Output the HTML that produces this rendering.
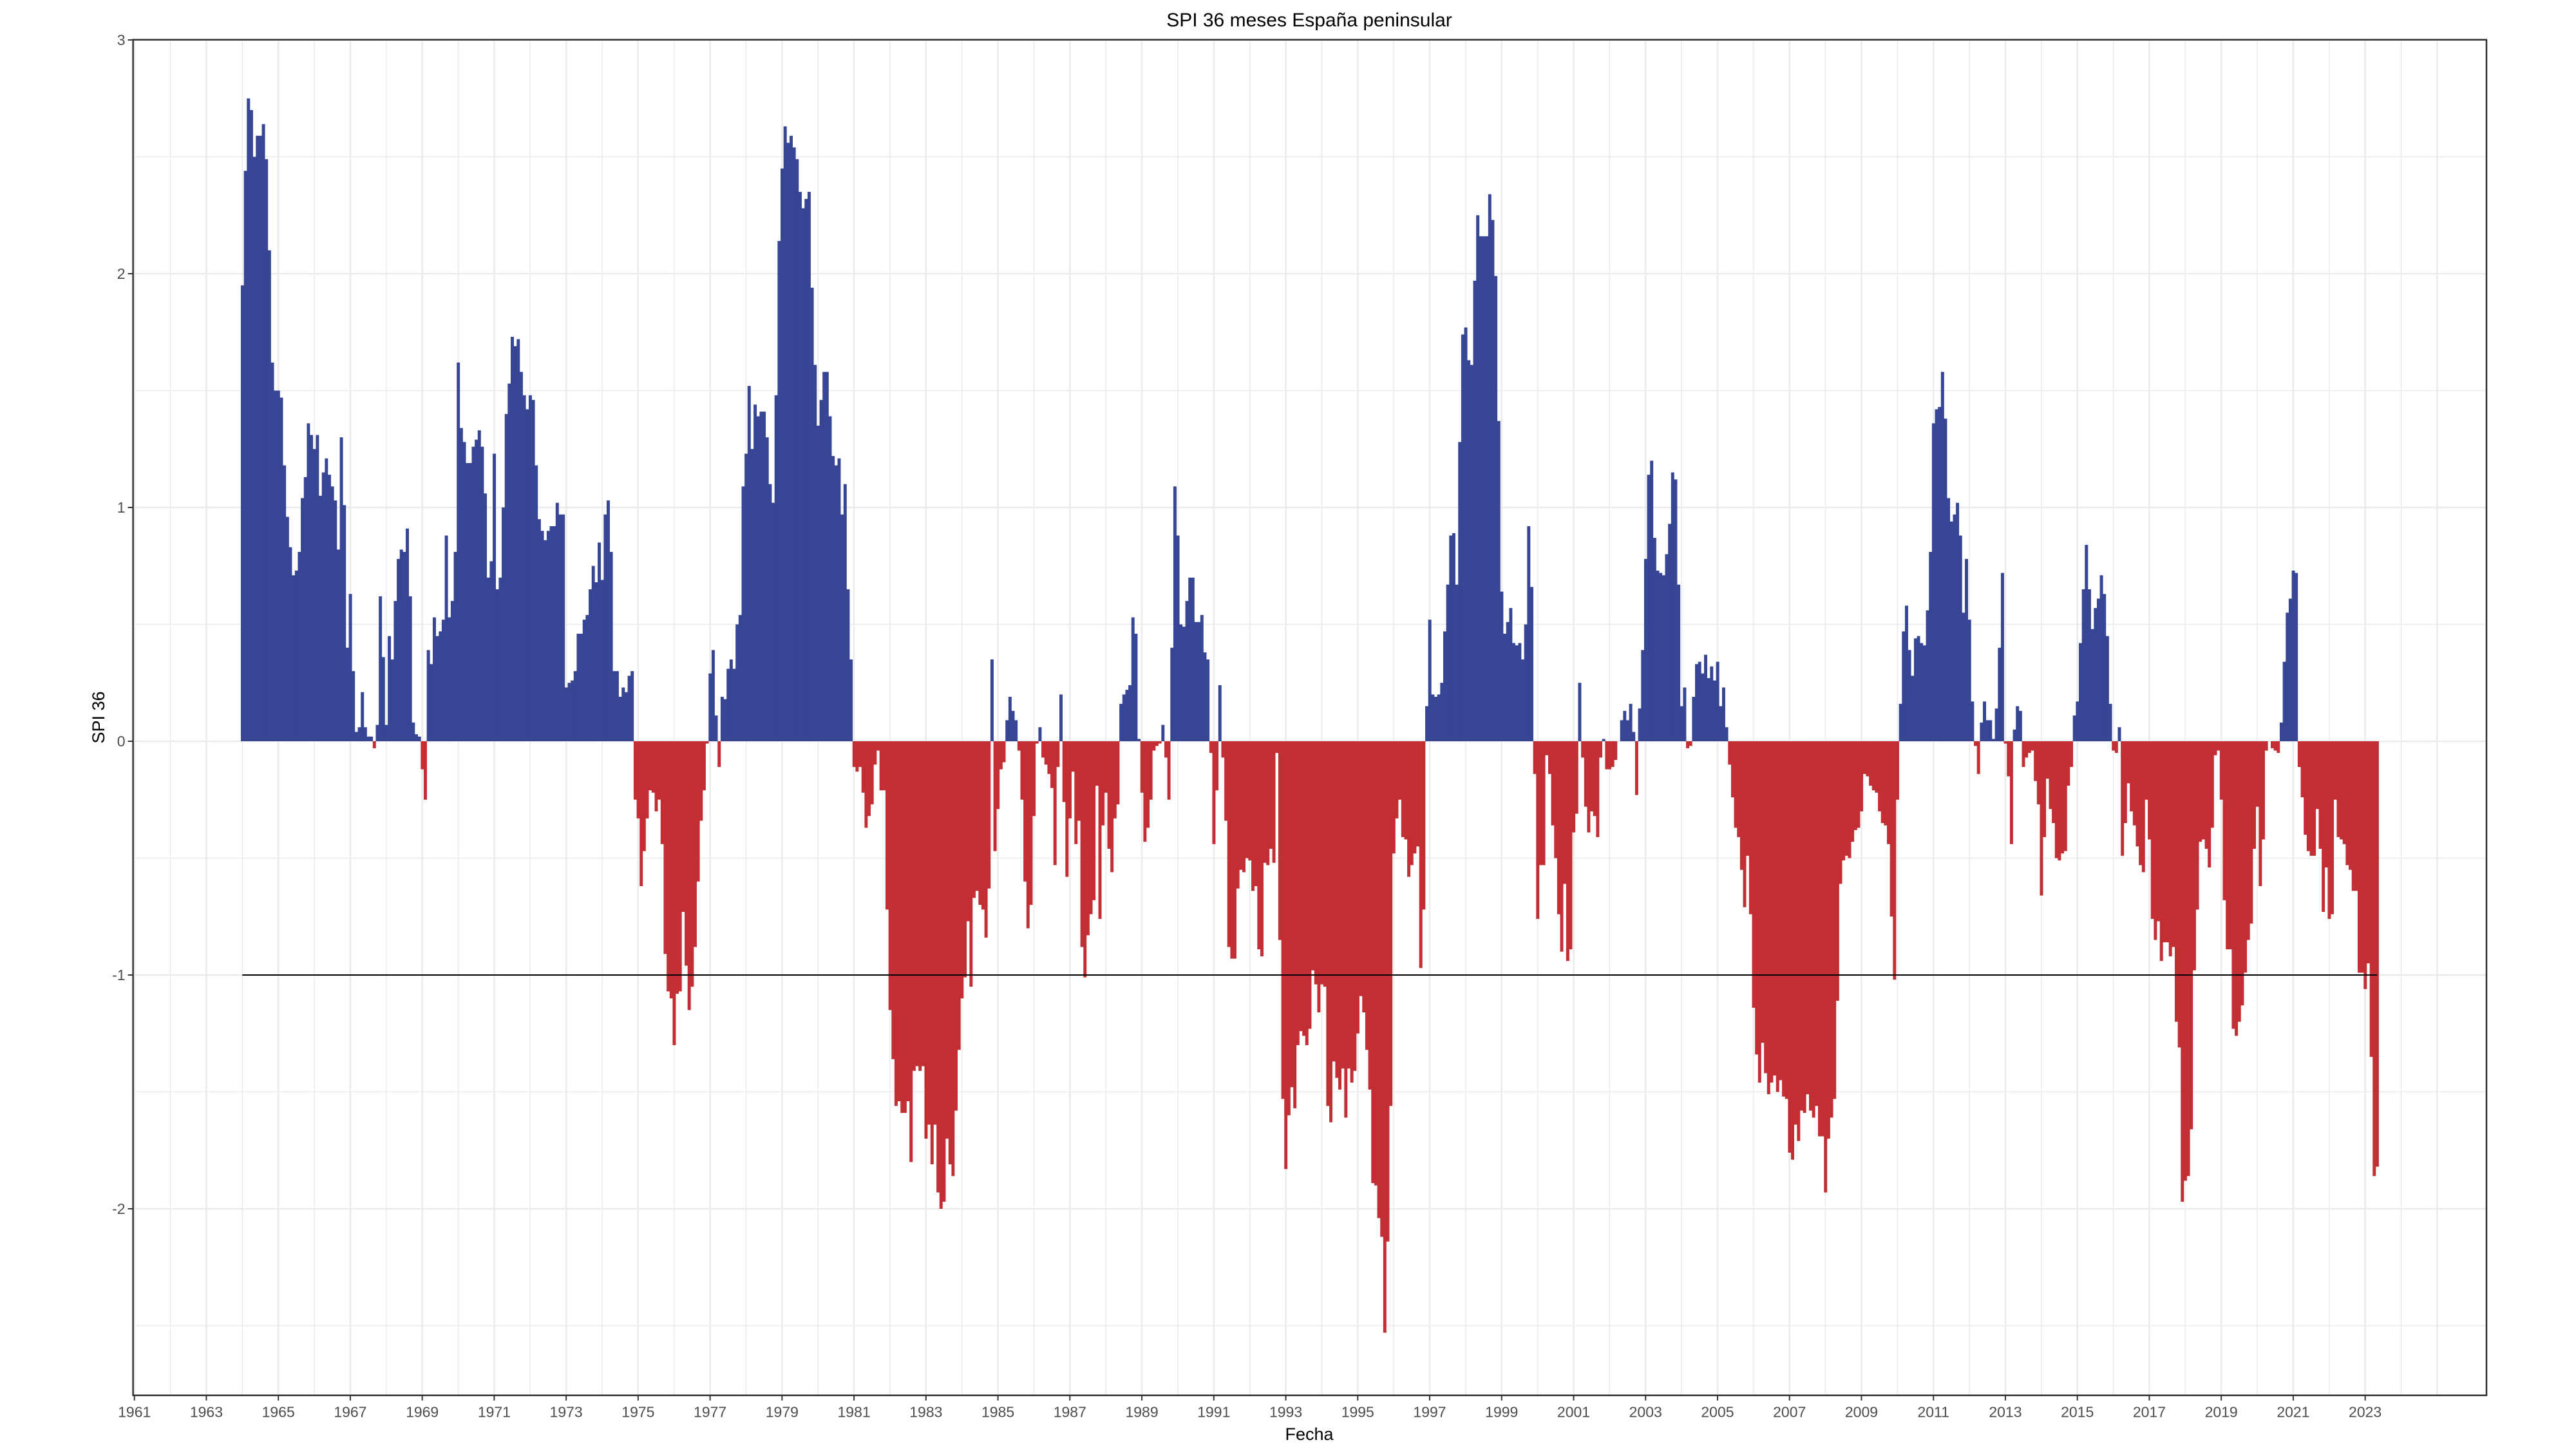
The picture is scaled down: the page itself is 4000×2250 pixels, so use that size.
<!DOCTYPE html>
<html><head><meta charset="utf-8"><title>SPI 36 meses España peninsular</title>
<style>
html,body{margin:0;padding:0;background:#fff;}
svg{display:block;}
text{font-family:"Liberation Sans",Arial,sans-serif;}
</style></head>
<body>
<svg id="chart" xmlns="http://www.w3.org/2000/svg" width="4000" height="2250" viewBox="0 0 4000 2250">
<rect x="0" y="0" width="4000" height="2250" fill="#ffffff"/>
<g id="grid"></g>
<g id="bars"></g>
<g id="ref"></g>
<rect x="206.6" y="61.7" width="3654.4" height="2105" fill="none" stroke="#333333" stroke-width="2.5"/>
<g id="axes"></g>
<text x="2033" y="41" font-size="30" text-anchor="middle" fill="#000">SPI 36 meses España peninsular</text>
<text x="2033" y="2236" font-size="27" text-anchor="middle" fill="#000">Fecha</text>
<text x="0" y="0" font-size="27" text-anchor="middle" fill="#000" transform="translate(162,1114) rotate(-90)">SPI 36</text>
</svg>
<script>
// Data: monthly SPI-36, starting January 1964
const startYear = 1964;
const spiA = [1.95,2.44,2.75,2.70,2.50,2.59,2.59,2.64,2.49,2.10,1.62,1.50,1.50,1.47,1.18,0.96,0.83,0.71,0.73,0.81,1.04,1.13,1.36,1.31,1.25,1.31,1.05,1.15,1.21,1.14,1.09,1.03,0.82,1.30,1.01,0.40,0.63,0.30,0.04,0.06,0.21,0.06,0.02,0.02,-0.03,0.07,0.62,0.36,0.07,0.45,0.35,0.60,0.78,0.82,0.81,0.91,0.62,0.08,0.03,0.02,-0.12,-0.25,0.39,0.33,0.53,0.45,0.47,0.52,0.88,0.53,0.60,0.81,1.62,1.34,1.28,1.19,1.19,1.26,1.29,1.33,1.26,1.06,0.70,0.77,1.23,0.65,0.70,1.00,1.40,1.53,1.73,1.69,1.72,1.58,1.48,1.42,1.48,1.46,1.18,0.95,0.90,0.86,0.90,0.92,0.92,1.02,0.97,0.97,0.23,0.25,0.26,0.30,0.46,0.46,0.52,0.54,0.65,0.75,0.68,0.85,0.69,0.97,1.03,0.81,0.30,0.30,0.19,0.23,0.21,0.28,0.30];
const spiB = [-0.25,-0.33,-0.62,-0.47,-0.33,-0.21,-0.22,-0.30,-0.25,-0.44,-0.91,-1.07,-1.10,-1.30,-1.08,-1.07,-0.73,-0.96,-1.15,-1.05,-0.88,-0.60,-0.34,-0.21,-0.01,0.29,0.39,0.11,-0.11,0.19,0.18,0.31,0.35,0.31,0.50,0.54,1.09,1.23,1.52,1.25,1.44,1.39,1.41,1.41,1.30,1.10,1.02,1.48,2.14,2.45,2.63,2.56,2.59,2.54,2.49,2.35,2.28,2.32,2.35,1.94,1.61,1.35,1.46,1.58,1.58,1.39,1.22,1.18,1.21,0.97,1.10,0.65,0.35,-0.11,-0.13,-0.11,-0.22,-0.37,-0.32,-0.27,-0.10,-0.04,-0.21,-0.21,-0.72,-1.15,-1.36,-1.56,-1.54,-1.59,-1.59,-1.54,-1.8,-1.41,-1.39];
const spiC = [-1.41,-1.39,-1.70,-1.64,-1.81,-1.64,-1.93,-2.00,-1.97,-1.70,-1.81,-1.86,-1.58,-1.32,-1.10,-1.01,-0.77,-1.05,-0.67,-0.64,-0.70,-0.72,-0.84,-0.63,0.35,-0.47,-0.29,-0.12,-0.09,0.09,0.19,0.13,0.09,-0.04,-0.25,-0.60,-0.80,-0.70,-0.32,-0.01,0.06,-0.07,-0.10,-0.14,-0.20,-0.53,-0.11,0.20,-0.26,-0.58,-0.33,-0.13,-0.44,-0.34,-0.88,-1.01,-0.83,-0.74,-0.68,-0.19,-0.76,-0.36,-0.22,-0.46,-0.56,-0.33,-0.27,0.16,0.20,0.22,0.24,0.53,0.46,0.01,-0.22,-0.43,-0.37,-0.25,-0.04,-0.02,-0.01,0.07,-0.07,-0.25,0.40,1.09,0.88,0.50,0.49,0.60,0.70,0.70,0.51,0.51,0.54,0.38,0.35,-0.05,-0.44,-0.21,0.24,-0.07,-0.34,-0.88,-0.93,-0.93,-0.63,-0.55,-0.56,-0.50,-0.51,-0.64,-0.62,-0.89,-0.92,-0.52,-0.53,-0.46,-0.52,-0.05,-0.85,-1.53,-1.83,-1.60,-1.48,-1.57,-1.30,-1.24];
const spiD = [-1.26,-1.30,-1.23,-0.98,-1.04,-1.16,-1.04,-1.05,-1.56,-1.63,-1.37,-1.44,-1.49,-1.40,-1.61,-1.40,-1.46,-1.41,-1.25,-1.09,-1.16,-1.32,-1.49,-1.89,-1.90,-2.04,-2.12,-2.53,-2.14,-1.56,-0.48,-0.33,-0.25,-0.41,-0.42,-0.58,-0.53,-0.48,-0.45,-0.97,-0.72,0.15,0.52,0.20,0.19,0.20,0.25,0.47,0.67,0.88,0.89,0.67,1.28,1.74,1.77,1.63,1.61,1.97,2.25,2.16,2.16,2.16,2.34,2.23,1.99,1.37,0.64,0.46,0.51,0.57,0.42,0.41,0.42,0.35,0.50,0.92,0.66,-0.14,-0.76,-0.53,-0.53,-0.06,-0.14,-0.36,-0.50,-0.74,-0.90,-0.61,-0.94,-0.89,-0.39,-0.31,0.25,-0.07,-0.28,-0.39,-0.30,-0.32,-0.41,-0.07,0.01,-0.12,-0.12,-0.11,-0.08,0.00,0.09,0.13,0.09,0.16,0.04,-0.23,0.14,0.39,0.78,1.14,1.20,0.87,0.73,0.72,0.71,0.80,0.93,1.15,1.12,0.67,0.15,0.23,-0.03];
const spiE = [-0.02,0.19,0.33,0.34,0.29,0.37,0.27,0.32,0.26,0.34,0.15,0.23,0.06,-0.10,-0.24,-0.37,-0.41,-0.55,-0.71,-0.49,-0.74,-1.14,-1.34,-1.46,-1.29,-1.42,-1.51,-1.46,-1.43,-1.50,-1.45,-1.52,-1.53,-1.76,-1.79,-1.64,-1.71,-1.58,-1.59,-1.51,-1.58,-1.61,-1.56,-1.69,-1.69,-1.93,-1.70,-1.61,-1.53,-1.11,-0.61,-0.51,-0.49,-0.50,-0.43,-0.38,-0.37,-0.30,-0.14,-0.15,-0.19,-0.21,-0.22,-0.30,-0.35,-0.36,-0.44,-0.75,-1.02,-0.25,0.16,0.47,0.58,0.39,0.28,0.44,0.45,0.42,0.41,0.56,0.81,1.36,1.42,1.43,1.58,1.38,1.04,0.94,0.97,1.02,0.88,0.55,0.78,0.52,0.17,-0.02,-0.14,0.08,0.17,0.09,0.09,0.01,0.14,0.40,0.72,-0.01,-0.15,-0.44,0.05,0.15,0.13,-0.11,-0.07,-0.05,-0.04,-0.17,-0.27,-0.66,-0.41,-0.16,-0.29,-0.35,-0.50,-0.51,-0.48,-0.47,-0.19,-0.11,0.11,0.17];
const spiF = [0.42,0.65,0.84,0.65,0.48,0.57,0.61,0.71,0.63,0.45,0.16,-0.04,-0.05,0.06,-0.49,-0.35,-0.18,-0.30,-0.36,-0.45,-0.53,-0.56,-0.25,-0.42,-0.76,-0.85,-0.77,-0.94,-0.86,-0.86,-0.92,-0.88,-1.20,-1.31,-1.97,-1.88,-1.86,-1.66,-0.98,-0.72,-0.43,-0.42,-0.46,-0.54,-0.37,-0.06,-0.04,-0.25,-0.68,-0.89,-0.89,-1.23,-1.26,-1.20,-1.13,-0.99,-0.85,-0.78,-0.46,-0.28,-0.62,-0.42,-0.04,0.00,-0.03,-0.04,-0.05,0.08,0.34,0.55,0.61,0.73,0.72,-0.11,-0.24,-0.40,-0.47,-0.49,-0.49,-0.29,-0.46,-0.73,-0.54,-0.76,-0.74,-0.25,-0.41,-0.42,-0.44,-0.53,-0.55,-0.64,-0.64,-0.99,-0.99,-1.06,-0.95,-1.35,-1.86,-1.82];
const xTickYears = [1961,1963,1965,1967,1969,1971,1973,1975,1977,1979,1981,1983,1985,1987,1989,1991,1993,1995,1997,1999,2001,2003,2005,2007,2009,2011,2013,2015,2017,2019,2021,2023];
const yTickValues = [-2,-1,0,1,2,3];
const yTickLabels = ["-2","-1","0","1","2","3"];
const refValue = -1;

const NS = "http://www.w3.org/2000/svg";
const spi = spiA.concat(spiB, spiC, spiD, spiE, spiF);
const PL = 206.6, PR = 3861, PT = 61.7, PB = 2166.7;
function xScale(year){ return 208.7 + (year - 1961) * 55.87; }
function yScale(v){ return 1151 - 363 * v; }
function mk(tag, attrs, parent){
  const e = document.createElementNS(NS, tag);
  for (const k in attrs) e.setAttribute(k, attrs[k]);
  parent.appendChild(e);
  return e;
}
const grid = document.getElementById('grid');
const bars = document.getElementById('bars');
const axes = document.getElementById('axes');
for (let v = -2.5; v <= 3.0001; v += 0.5) {
  const y = yScale(v);
  const major = Math.abs(v - Math.round(v)) < 1e-6;
  const ln = mk('line', {x1: PL, x2: PR, y1: y, y2: y, stroke: '#ebebeb', 'stroke-width': major ? 2.6 : 1.6}, grid);
  
  
}
for (let yr = 1961; yr <= 2025; yr++) {
  const x = xScale(yr);
  const major = (yr % 2) === 1;
  const ln = mk('line', {x1: x, x2: x, y1: PT, y2: PB, stroke: '#ebebeb', 'stroke-width': major ? 2.6 : 1.6}, grid);
  
  
}
const bw = 55.87 / 12;
const y0 = yScale(0);
spi.forEach(function(v, i){
  const xc = xScale(startYear + i / 12);
  const yv = yScale(v);
  const r = mk('rect', {x: (xc - bw / 2).toFixed(2), y: Math.min(yv, y0).toFixed(2), width: (bw + 0.3).toFixed(2), height: Math.max(Math.abs(yv - y0), 0.01).toFixed(2), fill: v >= 0 ? '#364594' : '#c22e33'}, bars);
  
  
});
const ref = mk('line', {x1: xScale(startYear), x2: xScale(startYear + (spi.length - 1) / 12), y1: yScale(refValue), y2: yScale(refValue), stroke: '#000', 'stroke-width': 2}, document.getElementById('ref'));


xTickYears.forEach(function(yr){
  const x = xScale(yr);
  const t = mk('line', {x1: x, x2: x, y1: PB, y2: PB + 8, stroke: '#333', 'stroke-width': 2}, axes);
  
  
  const lb = mk('text', {x: x, y: PB + 34, 'font-size': 23, 'text-anchor': 'middle', fill: '#4d4d4d'}, axes);
  lb.textContent = String(yr);
  
  
});
yTickValues.forEach(function(v, i){
  const y = yScale(v);
  const t = mk('line', {x1: PL - 8, x2: PL, y1: y, y2: y, stroke: '#333', 'stroke-width': 2}, axes);
  
  
  const lb = mk('text', {x: PL - 12, y: y + 8, 'font-size': 23, 'text-anchor': 'end', fill: '#4d4d4d'}, axes);
  lb.textContent = yTickLabels[i];
  
  
});
</script>
</body></html>
